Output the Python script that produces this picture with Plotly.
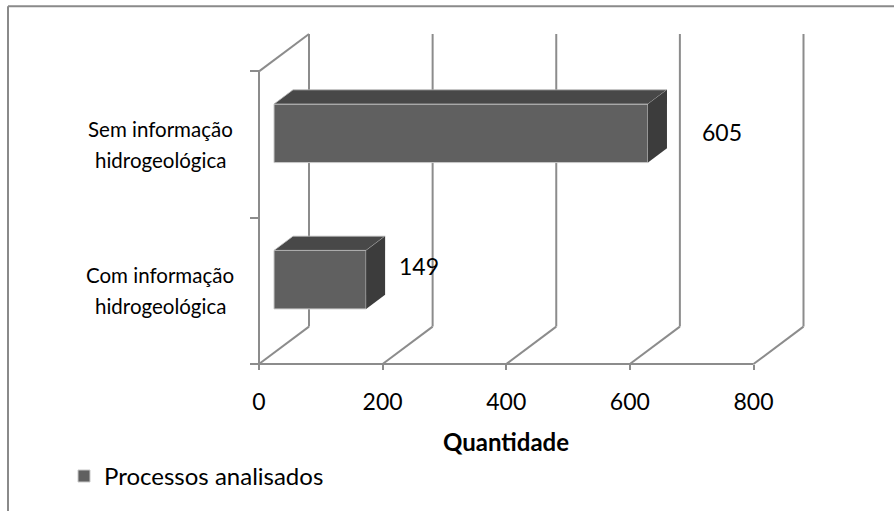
import plotly.graph_objects as go

# ---- data ----
categories = ["Com informação\nhidrogeológica", "Sem informação\nhidrogeológica"]
values = [149, 605]
x_ticks = [0, 200, 400, 600, 800]
series_name = "Processos analisados"
axis_title = "Quantidade"

# ---- geometry of the pseudo-3D frame ----
W, H = 894, 511
FRONT_LEFT, FRONT_RIGHT = 259, 753.5       # px of 0 and 800 on the front plane
PLOT_RIGHT = 819
FRONT_TOP, FRONT_FLOOR = 72, 369           # px of the front wall top / floor
PLOT_TOP = 30
PAD = 4                                    # keeps edge lines from being clipped

PPU = (FRONT_RIGHT - FRONT_LEFT) / x_ticks[-1]          # px per unit on x
N = len(categories)
UNIT = (FRONT_FLOOR - FRONT_TOP) / N                    # px per category band

DX = 50 / PPU          # depth offset in x data units
DY = 38 / UNIT         # depth offset in y data units
BAR_W = 0.4            # bar thickness (category units)
F0, F1 = 0.30, 0.68    # front/back depth fraction of the bars

plot_l = FRONT_LEFT - PAD
plot_b = FRONT_FLOOR + PAD
plot_w = PLOT_RIGHT - plot_l
plot_h = plot_b - PLOT_TOP


def paper_x(px):
    return (px - plot_l) / plot_w


def paper_y(py):
    return (plot_b - py) / plot_h


GRID = "#8c8c8c"
FRONT = "#606060"
TOP = "#484848"
SIDE = "#3c3c3c"
FONT = "Lato"

fig = go.Figure()

# top and side faces of each bar
for i, v in enumerate(values):
    c = i + 0.5
    y0f, y1f = c - BAR_W / 2 + F0 * DY, c + BAR_W / 2 + F0 * DY
    y0b, y1b = c - BAR_W / 2 + F1 * DY, c + BAR_W / 2 + F1 * DY
    x0f, x1f = F0 * DX, v + F0 * DX
    x0b, x1b = F1 * DX, v + F1 * DX
    fig.add_trace(go.Scatter(
        x=[x0f, x1f, x1b, x0b, x0f], y=[y1f, y1f, y1b, y1b, y1f],
        mode="lines", fill="toself", fillcolor=TOP,
        line=dict(width=0.8, color="#bdbdbd"), showlegend=False, hoverinfo="skip"))
    fig.add_trace(go.Scatter(
        x=[x1f, x1b, x1b, x1f, x1f], y=[y0f, y0b, y1b, y1f, y0f],
        mode="lines", fill="toself", fillcolor=SIDE,
        line=dict(width=0), showlegend=False, hoverinfo="skip"))

# front faces
fig.add_trace(go.Bar(
    orientation="h",
    y=[i + 0.5 + F0 * DY for i in range(N)],
    x=values,
    base=F0 * DX,
    width=BAR_W,
    name=series_name,
    marker=dict(color=FRONT, line=dict(color="#c8c8c8", width=1)),
    hoverinfo="skip",
))

# wall and floor lines
shapes = []


def seg(x0, y0, x1, y1):
    shapes.append(dict(type="line", xref="x", yref="y", x0=x0, y0=y0, x1=x1, y1=y1,
                       line=dict(color=GRID, width=2), layer="below"))


seg(0, 0, 0, N)                     # front left axis
seg(0, 0, x_ticks[-1], 0)           # front floor axis
seg(0, N, DX, N + DY)               # left wall top edge
for t in x_ticks:
    seg(t, 0, t + DX, DY)           # floor diagonals
    seg(t + DX, DY, t + DX, N + DY)  # back wall gridlines

# chart area border (top and left edges)
for x0, y0, x1, y1 in [(8, 6, 900, 6), (8, 6, 8, 520)]:
    shapes.append(dict(type="line", xref="paper", yref="paper",
                       x0=paper_x(x0), y0=paper_y(y0), x1=paper_x(x1), y1=paper_y(y1),
                       line=dict(color="#8a8a8a", width=2)))

annotations = []
# category labels, two centred lines each
for i, label in enumerate(categories):
    lines = label.split("\n")
    for k, line in enumerate(lines):
        annotations.append(dict(
            x=paper_x(160), xref="paper", y=i + 0.5, yref="y",
            yshift=15.5 * (len(lines) - 1) - 31 * k,
            text=line, showarrow=False, xanchor="center", yanchor="middle",
            font=dict(family=FONT, size=20.5, color="#000000")))

# value labels
label_shift = [(46, 25), (67, 13)]
for i, v in enumerate(values):
    annotations.append(dict(
        x=v, xref="x", y=i + 0.5, yref="y",
        xshift=label_shift[i][0], yshift=label_shift[i][1],
        text=str(v), showarrow=False, xanchor="left", yanchor="middle",
        font=dict(family=FONT, size=23, color="#000000")))

# axis title
annotations.append(dict(
    x=x_ticks[-1] / 2, xref="x", y=0, yref="y", yshift=-77,
    text="<b>" + axis_title + "</b>", showarrow=False,
    xanchor="center", yanchor="middle",
    font=dict(family=FONT, size=24, color="#000000")))

fig.update_layout(
    width=W, height=H,
    margin=dict(l=plot_l, r=W - PLOT_RIGHT, t=PLOT_TOP, b=H - plot_b, pad=0),
    paper_bgcolor="white", plot_bgcolor="white",
    shapes=shapes, annotations=annotations,
    hovermode=False,
    showlegend=True,
    legend=dict(x=paper_x(64), xanchor="left", y=paper_y(483), yanchor="middle",
                font=dict(family=FONT, size=24, color="#000000"),
                bgcolor="rgba(0,0,0,0)", borderwidth=0),
    xaxis=dict(range=[-PAD / PPU, (PLOT_RIGHT - FRONT_LEFT) / PPU],
               tickvals=x_ticks, ticktext=[str(t) for t in x_ticks],
               ticks="outside", ticklen=5, tickwidth=1.5, tickcolor=GRID,
               ticklabelstandoff=12,
               showgrid=False, zeroline=False, showline=False,
               anchor="free", position=paper_y(FRONT_FLOOR),
               tickfont=dict(family=FONT, size=23, color="#000000"),
               fixedrange=True),
    yaxis=dict(range=[-PAD / UNIT, (FRONT_FLOOR - PLOT_TOP) / UNIT],
               tickvals=list(range(N + 1)),
               ticks="outside", ticklen=9, tickwidth=1.5, tickcolor=GRID,
               showticklabels=False, showgrid=False, zeroline=False, showline=False,
               anchor="free", position=paper_x(FRONT_LEFT),
               fixedrange=True),
)

fig.write_html("out.html")
